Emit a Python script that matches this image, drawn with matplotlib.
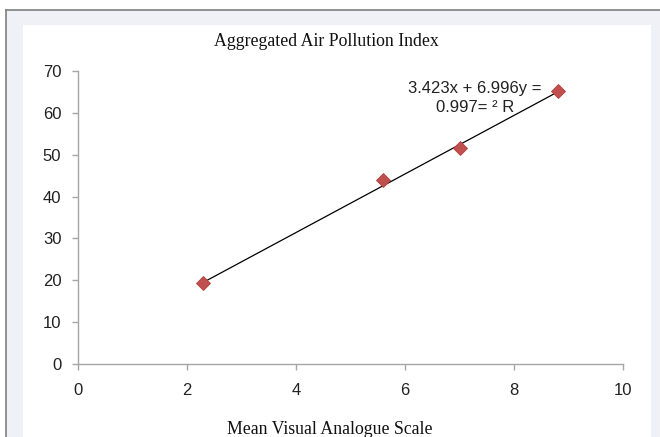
import numpy as np
import matplotlib.pyplot as plt
from matplotlib.patches import Rectangle
from matplotlib.lines import Line2D

# data
vas = [2.3, 5.6, 7.0, 8.8]
api = [19.3, 44.0, 51.6, 65.2]
slope = 6.996
intercept = 3.423
eq_text = "3.423x + 6.996y =\n0.997= \u00b2 R"
x_ticks = [0, 2, 4, 6, 8, 10]
y_ticks = [0, 10, 20, 30, 40, 50, 60, 70]

W, H = 660, 437
fig = plt.figure(figsize=(W / 100, H / 100), dpi=100)
fig.patch.set_facecolor("white")

# frame around the chart, like the source screenshot
fig.add_artist(Rectangle((6 / W, 0), 1 - 6 / W, 1 - 10 / H, transform=fig.transFigure,
                         facecolor="#f0f1f7", edgecolor="none", zorder=-3))
fig.add_artist(Rectangle((23 / W, 0), (651 - 23) / W, 1 - 25 / H, transform=fig.transFigure,
                         facecolor="white", edgecolor="none", zorder=-2))
fig.add_artist(Line2D([6 / W, 1], [1 - 10 / H, 1 - 10 / H], transform=fig.transFigure,
                      color="#7f7f7f", lw=1.2))
fig.add_artist(Line2D([6 / W, 6 / W], [0, 1 - 10 / H], transform=fig.transFigure,
                      color="#7f7f7f", lw=1.2))

ax = fig.add_axes([78 / W, 1 - 364 / H, (623 - 78) / W, (364 - 71) / H])
ax.set_facecolor("none")
ax.set_xlim(0, 10)
ax.set_ylim(0, 70)
ax.set_xticks(x_ticks)
ax.set_yticks(y_ticks)
for s in ["top", "right"]:
    ax.spines[s].set_visible(False)
for s in ["left", "bottom"]:
    ax.spines[s].set_color("#a6a6a6")
    ax.spines[s].set_linewidth(1.0)
ax.tick_params(axis="x", direction="out", length=4, width=1, color="#a6a6a6",
               pad=9.5, labelsize=12, labelcolor="#222222")
ax.tick_params(axis="y", direction="out", length=4, width=1, color="#a6a6a6",
               pad=8, labelsize=12, labelcolor="#222222")
for lab in ax.get_xticklabels() + ax.get_yticklabels():
    lab.set_fontfamily("Liberation Sans")

# linear trendline over the data range
xs = np.array([min(vas), max(vas)])
ax.plot(xs, slope * xs + intercept, color="black", lw=0.9, zorder=2)
ax.plot(vas, api, linestyle="none", marker="D", ms=7.5, color="#c0504d",
        markeredgecolor="#b0403d", markeredgewidth=0.6, zorder=3, clip_on=False)

ax.text(7.28, 63.5, eq_text, ha="center", va="center", fontsize=12,
        family="Liberation Sans", color="#222222", linespacing=1.3)

fig.text(326 / W, 1 - 42 / H, "Aggregated Air Pollution Index", ha="center", va="center",
         fontsize=12.8, family="Liberation Serif", color="#111111")
fig.text(330 / W, 1 - 429 / H, "Mean Visual Analogue Scale", ha="center", va="center",
         fontsize=12.8, family="Liberation Serif", color="#111111")

fig.savefig("out.png", dpi=100)
